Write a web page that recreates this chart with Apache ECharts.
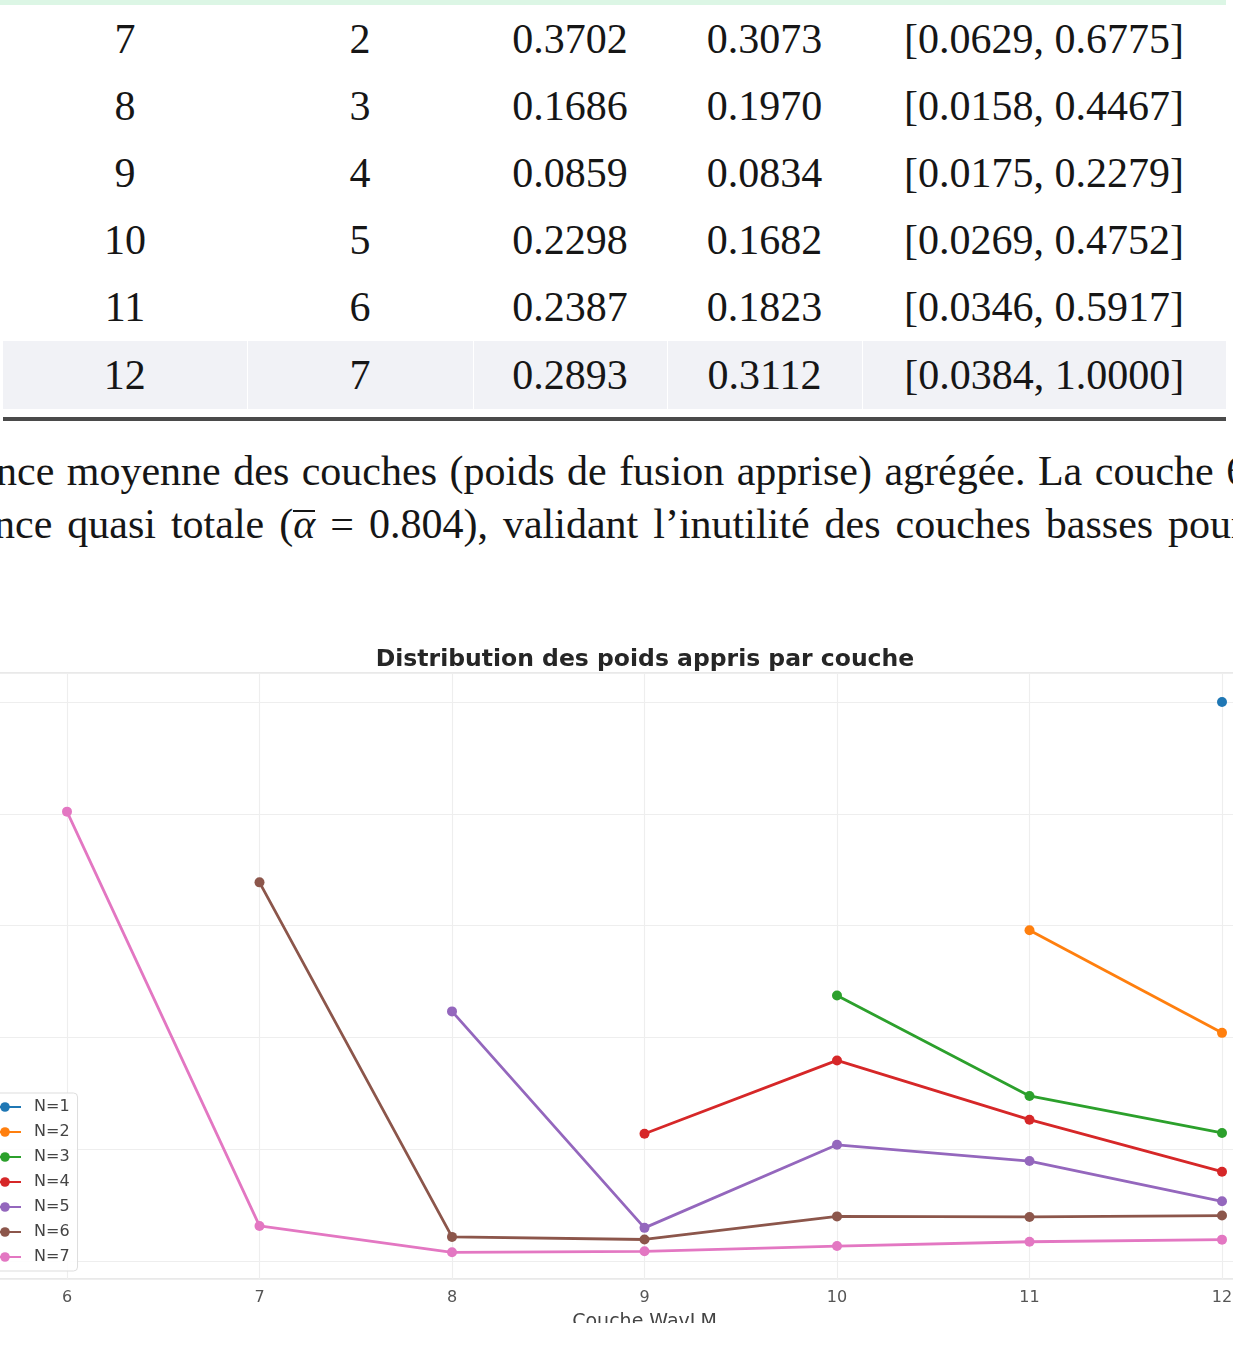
<!DOCTYPE html>
<html>
<head>
<meta charset="utf-8">
<title>Distribution des poids appris par couche</title>
<script src="https://cdn.jsdelivr.net/npm/echarts@6/dist/echarts.min.js"></script>
<style>
  html, body { margin: 0; padding: 0; width: 1233px; height: 1350px; overflow: hidden; background: #fff; }
  #page { position: relative; width: 1233px; height: 1350px; overflow: hidden; }
  .band { position: absolute; left: 0; top: 0; width: 1226px; height: 5px; background: #dcf6e5; }
  table { position: absolute; left: 3px; top: 6px; border-collapse: collapse; table-layout: fixed;
          font-family: 'Liberation Serif', 'Times New Roman', serif; font-size: 42px; color: #161616; }
  td { text-align: center; padding: 0; height: 67px; line-height: 67px; }
  tr.last td { background: #f1f2f6; border-left: 1px solid #fff; height: 68px; line-height: 68px; }
  tr.last td:first-child { border-left: none; }
  .rule { position: absolute; left: 3px; top: 417px; width: 1223px; height: 4px; background: #4a4a4a; }
  .line { position: absolute; white-space: nowrap; font-family: 'Liberation Serif', 'Times New Roman', serif;
          font-size: 42px; color: #161616; line-height: 53px; }
  .abar { display: inline-block; font-style: italic; border-top: 2px solid #161616; line-height: 24px; word-spacing: 0; }
  #chart { position: absolute; left: -200px; top: 600px; width: 1800px; height: 723px; }
</style>
</head>
<body>
<div id="page">
  <div class="band"></div>
  <table id="stats">
    <colgroup><col style="width:244px"><col style="width:226px"><col style="width:194px"><col style="width:195px"><col style="width:364px"></colgroup>
    <tbody id="statsBody"></tbody>
  </table>
  <div class="rule"></div>
  <div class="line" style="left:-4px; top:445px; word-spacing:2px;">nce moyenne des couches (poids de fusion apprise) agrégée. La couche 6</div>
  <div class="line" style="left:-6px; top:498px; word-spacing:4.5px;">nce quasi totale (<span class="abar">α</span> = 0.804), validant l’inutilité des couches basses pour</div>
  <div id="chart"></div>
</div>
<script>
// tableau récapitulatif (couche, nb de modèles, moyenne, écart-type, [min, max])
const tabLayer = [7, 8, 9, 10, 11, 12];
const tabCount = [2, 3, 4, 5, 6, 7];
const tabMean = ['0.3702', '0.1686', '0.0859', '0.2298', '0.2387', '0.2893'];
const tabStd = ['0.3073', '0.1970', '0.0834', '0.1682', '0.1823', '0.3112'];
const tabRange = ['[0.0629, 0.6775]', '[0.0158, 0.4467]', '[0.0175, 0.2279]',
                  '[0.0269, 0.4752]', '[0.0346, 0.5917]', '[0.0384, 1.0000]'];

// poids appris par couche WavLM, une liste par N (null = couche absente)
const layers = [6, 7, 8, 9, 10, 11, 12];
const seriesNames = ['N=1', 'N=2', 'N=3', 'N=4', 'N=5', 'N=6', 'N=7'];
const wN1 = [null, null, null, null, null, null, 1.0];
const wN2 = [null, null, null, null, null, 0.5917, 0.4083];
const wN3 = [null, null, null, null, 0.4752, 0.2955, 0.2293];
const wN4 = [null, null, null, 0.2279, 0.3590, 0.2530, 0.1600];
const wN5 = [null, null, 0.4467, 0.0595, 0.2080, 0.1790, 0.1070];
const wN6 = [null, 0.6775, 0.0433, 0.0387, 0.0800, 0.0790, 0.0815];
const wN7 = [0.8040, 0.0629, 0.0158, 0.0175, 0.0269, 0.0346, 0.0384];
const colors = ['#1f77b4', '#ff7f0e', '#2ca02c', '#d62728', '#9467bd', '#8c564b', '#e377c2'];

const body = document.getElementById('statsBody');
body.innerHTML = tabLayer.map((l, i) => `
  <tr class="${i === tabLayer.length - 1 ? 'last' : ''}">
    <td>${l}</td><td>${tabCount[i]}</td><td>${tabMean[i]}</td><td>${tabStd[i]}</td><td>${tabRange[i]}</td>
  </tr>`).join('');

const weights = [wN1, wN2, wN3, wN4, wN5, wN6, wN7];
const chart = echarts.init(document.getElementById('chart'), null, { renderer: 'canvas' });

const gridLine = { lineStyle: { color: '#eeeeee', width: 1.2 } };
const font = 'DejaVu Sans';

chart.setOption({
  animation: false,
  title: {
    text: 'Distribution des poids appris par couche',
    left: 840, top: 43, textAlign: 'center',
    textStyle: { fontFamily: font, fontWeight: 'bold', fontSize: 23.5, color: '#262626' }
  },
  grid: {
    left: 74.5, top: 73, width: 1540, height: 606,
    outerBoundsMode: 'none', containLabel: false,
    show: true, borderColor: '#e2e2e2', borderWidth: 1.5, backgroundColor: 'transparent'
  },
  xAxis: {
    type: 'value', min: 5, max: 13, interval: 1,
    axisLine: { show: false }, axisTick: { show: false },
    axisLabel: { fontFamily: font, fontSize: 16, color: '#555', margin: 11 },
    splitLine: gridLine,
    name: 'Couche WavLM', nameLocation: 'middle', nameGap: 34,
    nameTextStyle: { fontFamily: font, fontSize: 19, color: '#444' }
  },
  yAxis: {
    type: 'value', min: -0.032, max: 1.052, splitNumber: 5,
    axisLine: { show: false }, axisTick: { show: false },
    axisLabel: { show: false },
    splitLine: gridLine
  },
  legend: {
    orient: 'vertical', left: 180, top: 493,
    padding: [6, 8, 6, 8], itemWidth: 32, itemHeight: 12, itemGap: 9,
    borderColor: '#dddddd', borderWidth: 1, borderRadius: 4,
    backgroundColor: 'rgba(255,255,255,0.85)',
    textStyle: { fontFamily: font, fontSize: 16, color: '#444', padding: [0, 0, 0, 8] },
    data: seriesNames
  },
  series: seriesNames.map((name, k) => ({
    name, type: 'line',
    data: layers.map((l, i) => [l, weights[k][i]]).filter(p => p[1] !== null),
    symbol: 'circle', symbolSize: 10,
    lineStyle: { color: colors[k], width: 2.8 },
    itemStyle: { color: colors[k] },
    color: colors[k]
  }))
});
</script>
</body>
</html>
